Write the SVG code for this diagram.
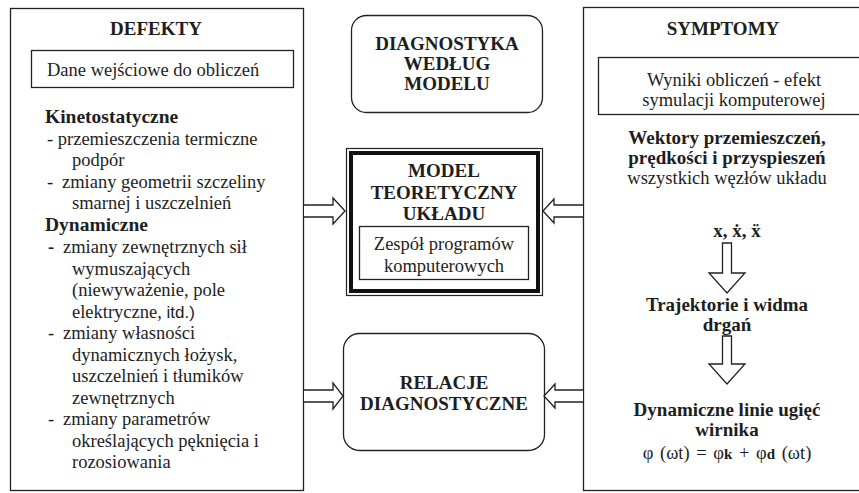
<svg xmlns="http://www.w3.org/2000/svg" width="859" height="493" viewBox="0 0 859 493">
  <style>
    .box{fill:#fff;stroke:#222;stroke-width:1.3}
    .t{font-family:"Liberation Serif","Times New Roman","DejaVu Serif",serif;font-size:18.5px;fill:#1e1e1e}
    .b{font-weight:bold;font-size:19px}
    .h{font-size:19.5px}
    .c{text-anchor:middle}
    .sans{font-family:"Liberation Sans",Arial,sans-serif;font-size:17px}
    .arrow{fill:#fff;stroke:#222;stroke-width:1.3;stroke-linejoin:miter}
  </style>
  <rect width="859" height="493" fill="#fff"/>

  <!-- left column: defects -->
  <g id="defekty">
    <rect class="box" x="10.5" y="8.5" width="293" height="482"/>
    <text class="t b c" x="156" y="35">DEFEKTY</text>
    <rect class="box" x="31.5" y="50.5" width="262" height="37"/>
    <text class="t" x="47" y="76">Dane wejściowe do obliczeń</text>
    <text class="t b h" x="45" y="123">Kinetostatyczne</text>
    <text class="t" x="47" y="144.5">- przemieszczenia termiczne</text>
    <text class="t" x="72" y="166">podpór</text>
    <text class="t" y="187.5"><tspan x="47">-</tspan><tspan x="62">zmiany geometrii szczeliny</tspan></text>
    <text class="t" x="72" y="209">smarnej i uszczelnień</text>
    <text class="t b h" x="45" y="230.5">Dynamiczne</text>
    <text class="t" y="253"><tspan x="48" font-weight="bold">-</tspan><tspan x="63">zmiany zewnętrznych sił</tspan></text>
    <text class="t" x="72" y="274.5">wymuszających</text>
    <text class="t" x="72" y="296">(niewyważenie, pole</text>
    <text class="t" x="72" y="317.5">elektryczne, <tspan class="sans">itd.)</tspan></text>
    <text class="t" y="339"><tspan x="48">-</tspan><tspan x="63">zmiany własności</tspan></text>
    <text class="t" x="72" y="360.5">dynamicznych łożysk,</text>
    <text class="t" x="72" y="382">uszczelnień i tłumików</text>
    <text class="t" x="72" y="403.5">zewnętrznych</text>
    <text class="t" y="425"><tspan x="48">-</tspan><tspan x="63">zmiany parametrów</tspan></text>
    <text class="t" x="72" y="446.5">określających pęknięcia i</text>
    <text class="t" x="72" y="468">rozosiowania</text>
  </g>

  <!-- middle column -->
  <g id="diagnostyka">
    <rect class="box" x="351.5" y="15.5" width="191" height="97" rx="15"/>
    <text class="t b c" x="447" y="50">DIAGNOSTYKA</text>
    <text class="t b c" x="447" y="70">WEDŁUG</text>
    <text class="t b c" x="447" y="90">MODELU</text>
  </g>

  <g id="model">
    <rect x="346.5" y="148.5" width="196" height="147" fill="#fff" stroke="#222" stroke-width="1.2"/>
    <rect x="351" y="153" width="187" height="138" fill="none" stroke="#111" stroke-width="4"/>
    <text class="t b c" x="444" y="177">MODEL</text>
    <text class="t b c" x="444" y="199">TEORETYCZNY</text>
    <text class="t b c" x="444" y="220">UKŁADU</text>
    <rect class="box" x="359.5" y="226.5" width="169" height="53"/>
    <text class="t c" x="444" y="250">Zespół programów</text>
    <text class="t c" x="444" y="272">komputerowych</text>
  </g>

  <g id="relacje">
    <rect class="box" x="343.5" y="333.5" width="201" height="117" rx="16"/>
    <text class="t b c" x="444" y="389">RELACJE</text>
    <text class="t b c" x="444" y="410">DIAGNOSTYCZNE</text>
  </g>

  <!-- right column: symptoms -->
  <g id="symptomy">
    <rect class="box" x="583.5" y="7.5" width="285" height="483"/>
    <text class="t b c" x="723" y="35">SYMPTOMY</text>
    <rect class="box" x="598.5" y="57.5" width="270" height="57"/>
    <text class="t c" x="734" y="86">Wyniki obliczeń - efekt</text>
    <text class="t c" x="734" y="106">symulacji komputerowej</text>
    <text class="t b c" x="727" y="144">Wektory przemieszczeń,</text>
    <text class="t b c" x="727" y="164">prędkości i przyspieszeń</text>
    <text class="t c" x="727" y="184">wszystkich węzłów układu</text>
    <text class="t b c" x="737" y="237" font-size="24px">x, ẋ, ẍ</text>
    <text class="t b c" x="727" y="311">Trajektorie i widma</text>
    <text class="t b c" x="727" y="331">drgań</text>
    <text class="t b c" x="727" y="416">Dynamiczne linie ugięć</text>
    <text class="t b c" x="727" y="436">wirnika</text>
    <text class="t c" x="727" y="459" font-size="23px" word-spacing="2px">φ (ωt) = φ<tspan font-size="15px" font-weight="bold">k</tspan> + φ<tspan font-size="15px" font-weight="bold">d</tspan> (ωt)</text>
  </g>

  <!-- block arrows -->
  <g id="connectors">
    <polyline class="arrow" points="304,205 333,205 333,198 345,211 333,224 333,217 304,217"/>
    <polyline class="arrow" points="583,205 554,205 554,199 543,211 554,223 554,217 583,217"/>
    <polyline class="arrow" points="304,390 333,390 333,383 343,396 333,409 333,402 304,402"/>
    <polyline class="arrow" points="583,390 555,390 555,384 544,396 555,408 555,402 583,402"/>
    <polygon class="arrow" points="722.5,243 731.5,243 731.5,273 745,273 727,293 709,273 722.5,273"/>
    <polygon class="arrow" points="722.5,336 731.5,336 731.5,364 745,364 727,384 709,364 722.5,364"/>
  </g>
</svg>
